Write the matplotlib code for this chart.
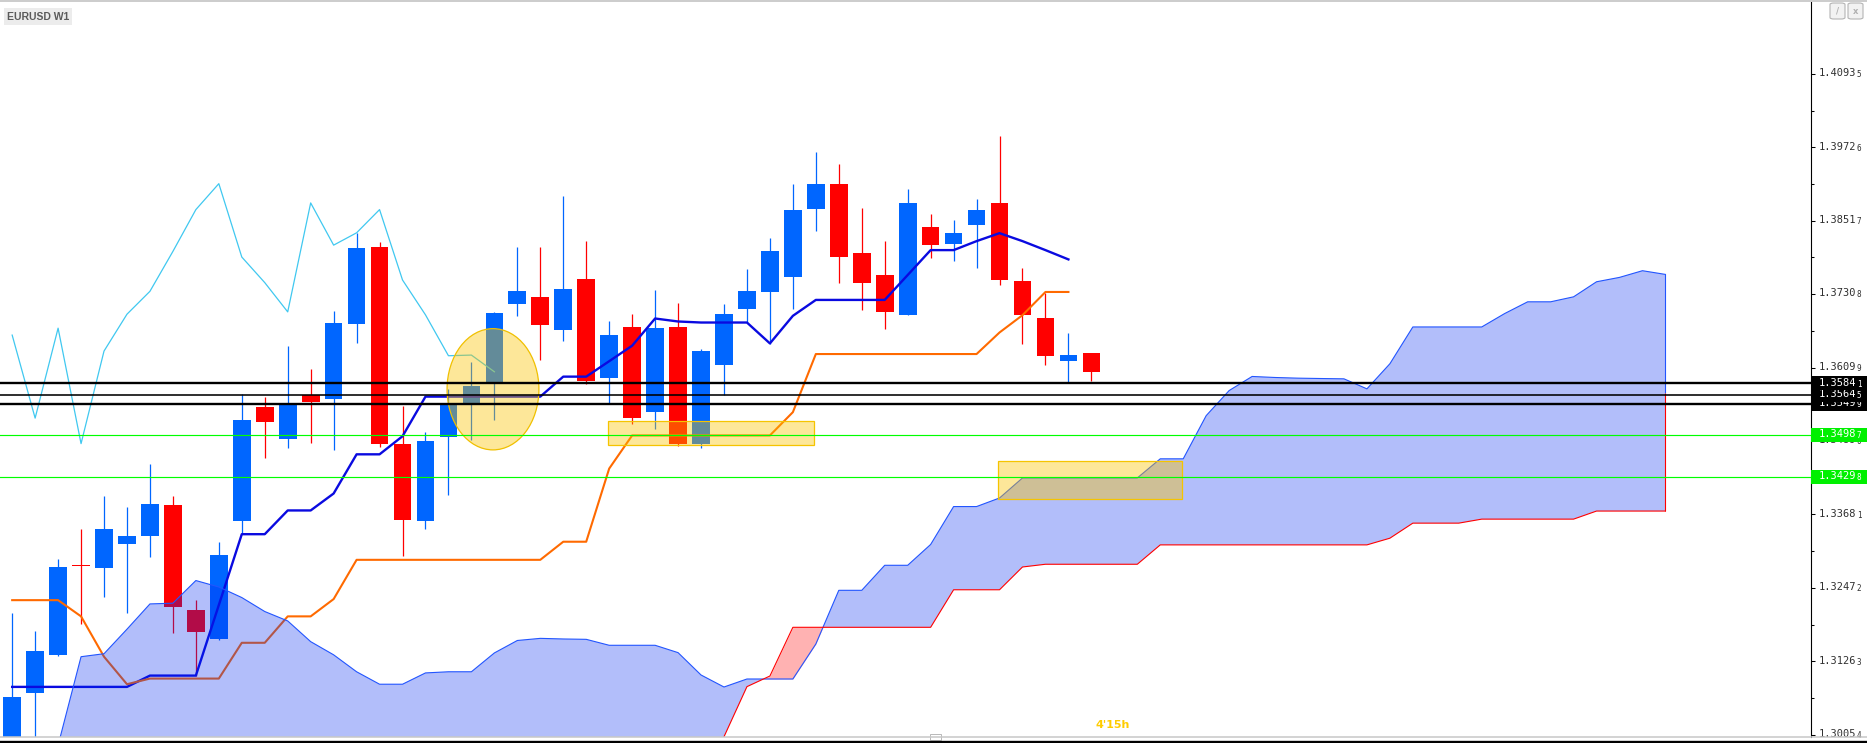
import numpy as np
import matplotlib.pyplot as plt
from matplotlib import transforms
from matplotlib.patches import Rectangle, Ellipse, FancyBboxPatch
from matplotlib.lines import Line2D

# --- EURUSD W1 : bougies (index 0..47) ---
opens = [1.29900, 1.30748, 1.31369, 1.32850, 1.32796, 1.33194, 1.33324, 1.33833, 1.32101, 1.31629,
         1.33572, 1.35453, 1.34919, 1.35639, 1.35589, 1.36812, 1.38085, 1.34845, 1.33572, 1.34949,
         1.35513, 1.35844, 1.37141, 1.37265, 1.36710, 1.37557, 1.35933, 1.36764, 1.35364, 1.36764,
         1.34835, 1.36146, 1.37065, 1.37343, 1.37590, 1.38705, 1.39126, 1.37989, 1.37617, 1.36966,
         1.38415, 1.38131, 1.38443, 1.38809, 1.37519, 1.36911, 1.36212, 1.36346]
highs = [1.32051, 1.31760, 1.32951, 1.33436, 1.33988, 1.33802, 1.34503, 1.33976, 1.32269, 1.33231,
         1.35664, 1.35620, 1.36458, 1.36067, 1.37029, 1.38321, 1.38165, 1.35465, 1.35043, 1.35747,
         1.36197, 1.37011, 1.38091, 1.38091, 1.38921, 1.38184, 1.36868, 1.36977, 1.37371, 1.37158,
         1.36403, 1.37141, 1.37715, 1.38224, 1.39126, 1.39651, 1.39454, 1.38732, 1.38186, 1.39039,
         1.38634, 1.38536, 1.38880, 1.39919, 1.37732, 1.37333, 1.36665, 1.36346]
lows = [1.29850, 1.29900, 1.31356, 1.31878, 1.32318, 1.32051, 1.32983, 1.31729, 1.31027, 1.31617,
        1.33355, 1.34615, 1.34770, 1.34863, 1.34733, 1.36508, 1.34795, 1.32995, 1.33448, 1.33999,
        1.34911, 1.35237, 1.36955, 1.36224, 1.36530, 1.35830, 1.35517, 1.35173, 1.35080, 1.34801,
        1.34774, 1.35648, 1.36840, 1.36485, 1.37059, 1.38344, 1.37491, 1.37048, 1.36737, 1.36966,
        1.37901, 1.37847, 1.37732, 1.37453, 1.36485, 1.36146, 1.35853, 1.35880]
closes = [1.30673, 1.31431, 1.32809, 1.32830, 1.33436, 1.33318, 1.33851, 1.32157, 1.31741, 1.33014,
          1.35229, 1.35205, 1.35478, 1.35527, 1.36831, 1.38060, 1.34845, 1.33584, 1.34894, 1.35475,
          1.35801, 1.36994, 1.37358, 1.36800, 1.37390, 1.35869, 1.36633, 1.35266, 1.36747, 1.34846,
          1.36370, 1.36977, 1.37354, 1.38011, 1.38699, 1.39126, 1.37918, 1.37497, 1.37015, 1.38809,
          1.38114, 1.38317, 1.38699, 1.37540, 1.36966, 1.36293, 1.36304, 1.36029]

# --- Ichimoku (tenkan / kijun : index 0..46) ---
tenkan = [1.30841, 1.30841, 1.30841, 1.30841, 1.30841, 1.30841, 1.31027, 1.31027, 1.31027, 1.32188,
          1.33355, 1.33355, 1.33746, 1.33746, 1.34025, 1.34670, 1.34670, 1.34968, 1.35620, 1.35620,
          1.35620, 1.35620, 1.35620, 1.35620, 1.35949, 1.35949, 1.36203, 1.36458, 1.36906, 1.36857,
          1.36840, 1.36840, 1.36840, 1.36496, 1.36950, 1.37212, 1.37212, 1.37212, 1.37212, 1.37622,
          1.38032, 1.38032, 1.38180, 1.38311, 1.38180, 1.38032, 1.37879]
kijun = [1.32269, 1.32269, 1.32269, 1.32002, 1.31338, 1.30885, 1.30978, 1.30978, 1.30978, 1.30978,
         1.31567, 1.31567, 1.32002, 1.32002, 1.32287, 1.32933, 1.32933, 1.32933, 1.32933, 1.32933,
         1.32933, 1.32933, 1.32933, 1.32933, 1.33231, 1.33231, 1.34435, 1.34981, 1.34981, 1.34981,
         1.34981, 1.34981, 1.34981, 1.34981, 1.35364, 1.36321, 1.36321, 1.36321, 1.36321, 1.36321,
         1.36321, 1.36321, 1.36321, 1.36676, 1.36961, 1.37343, 1.37343]

# --- nuage (senkou A / B : index 2..72) ---
kumo_start = 2
senkou_a = [1.29880, 1.31338, 1.31387, 1.31791, 1.32207, 1.32219, 1.32592, 1.32486, 1.32312, 1.32082,
            1.31927, 1.31586, 1.31369, 1.31090, 1.30885, 1.30885, 1.31071, 1.31090, 1.31090, 1.31400,
            1.31605, 1.31640, 1.31630, 1.31624, 1.31526, 1.31526, 1.31526, 1.31405, 1.31037, 1.30839,
            1.30971, 1.30971, 1.30971, 1.31547, 1.32431, 1.32431, 1.32843, 1.32843, 1.33186, 1.33810,
            1.33810, 1.33951, 1.34281, 1.34281, 1.34281, 1.34281, 1.34281, 1.34281, 1.34596, 1.34596,
            1.35307, 1.35720, 1.35952, 1.35935, 1.35924, 1.35918, 1.35913, 1.35748, 1.36161, 1.36767,
            1.36767, 1.36767, 1.36767, 1.36988, 1.37181, 1.37181, 1.37263, 1.37511, 1.37583, 1.37693,
            1.37632]
senkou_b = [1.29500, 1.29500, 1.29500, 1.29500, 1.29500, 1.29500, 1.29500, 1.29500, 1.29500, 1.29500,
            1.29500, 1.29500, 1.29500, 1.29500, 1.29500, 1.29500, 1.29500, 1.29500, 1.29500, 1.29500,
            1.29500, 1.29500, 1.29500, 1.29500, 1.29500, 1.29500, 1.29500, 1.29500, 1.29500, 1.30020,
            1.30845, 1.31020, 1.31822, 1.31822, 1.31822, 1.31822, 1.31822, 1.31822, 1.31822, 1.32440,
            1.32440, 1.32440, 1.32815, 1.32860, 1.32860, 1.32860, 1.32860, 1.32860, 1.33179, 1.33179,
            1.33179, 1.33179, 1.33179, 1.33179, 1.33179, 1.33179, 1.33179, 1.33179, 1.33289, 1.33537,
            1.33537, 1.33537, 1.33603, 1.33603, 1.33603, 1.33603, 1.33603, 1.33736, 1.33736, 1.33736,
            1.33736]

# --- niveaux horizontaux et graduations ---
black_levels = [1.35841, 1.35645, 1.35499]
green_levels = [1.34987, 1.34298]
tick_values = [1.30054, 1.31263, 1.32472, 1.33681, 1.34890, 1.36099, 1.37308, 1.38517, 1.39726, 1.40935]

# zones dessinées à la main (coordonnées index / prix)
ellipse_zone = dict(xy=(20.94, 1.35741), width=4.0, height=0.01996)
rect_zones = [(25.97, 34.93, 1.34822, 1.35221), (42.94, 50.96, 1.33938, 1.34563)]

BLUE = '#0066ff'
RED = '#ff0000'
YELLOW = '#fac300'

# --- figure ---
W, H = 1867, 743
fig = plt.figure(figsize=(W / 100, H / 100), dpi=100)
fig.patch.set_facecolor('white')
ax = fig.add_axes([0, 6 / H, 1811 / W, 735 / H])
ax.set_xlim(-0.53, 78.34)
ax.set_ylim(1.30016, 1.42117)
px = 735 / (1.42117 - 1.30016)   # pixels par unité de prix

for s in ['left', 'top', 'bottom']:
    ax.spines[s].set_visible(False)
ax.spines['right'].set_color('black')
ax.spines['right'].set_linewidth(0.8)
ax.set_xticks([])
ax.yaxis.tick_right()
ax.set_yticks(tick_values)
ax.set_yticklabels([])
tv = np.array(tick_values)
ax.set_yticks(tv[:-1] + np.diff(tv) / 2, minor=True)
ax.tick_params(axis='y', which='major', direction='out', length=3, width=0.75, color='black')
ax.tick_params(axis='y', which='minor', direction='out', length=1.8, width=0.75, color='black')

# --- bougies ---
o = np.array(opens); h = np.array(highs); l = np.array(lows); c = np.array(closes)
x = np.arange(len(o))
cols = [BLUE if cc >= oo else RED for oo, cc in zip(o, c)]
ax.vlines(x, l, h, colors=cols, lw=0.9, zorder=2)
body_lo = np.minimum(o, c)
body_h = np.maximum(np.abs(c - o), 1.2 / px)
ax.bar(x, body_h, bottom=body_lo, width=0.77, color=cols, linewidth=0, zorder=2.1)

# --- lignes Ichimoku ---
ax.plot(np.arange(len(tenkan)), tenkan, color='#0a0ae0', lw=1.7, zorder=3)
ax.plot(np.arange(len(kijun)), kijun, color='#ff6a00', lw=1.5, zorder=3)
ax.plot(np.arange(len(c) - 26), c[26:], color='#40c8f0', lw=0.9, zorder=3)   # chikou

xa = np.arange(kumo_start, kumo_start + len(senkou_a))
sa = np.array(senkou_a); sb = np.array(senkou_b)
ax.fill_between(xa, sa, sb, where=sa >= sb, interpolate=True, color='#0028f0', alpha=0.3, lw=0, zorder=4)
ax.fill_between(xa, sa, sb, where=sa < sb, interpolate=True, color='#ff0000', alpha=0.3, lw=0, zorder=4)
ax.plot(xa, sa, color='#2255ff', lw=0.8, zorder=5)
ax.plot(xa, sb, color='#ff0000', lw=0.8, zorder=5)
mid = (sa[-1] + sb[-1]) / 2
ax.vlines(xa[-1], mid, sa[-1], color='#2255ff', lw=0.8, zorder=5)
ax.vlines(xa[-1], sb[-1], mid, color='#ff0000', lw=0.8, zorder=5)

# --- zones jaunes ---
ax.add_patch(Ellipse(**ellipse_zone, facecolor=YELLOW, alpha=0.4, lw=0, zorder=6))
ax.add_patch(Ellipse(**ellipse_zone, facecolor='none', edgecolor='#f0c000', lw=0.9, zorder=6.1))
for x0, x1, y0, y1 in rect_zones:
    ax.add_patch(Rectangle((x0, y0), x1 - x0, y1 - y0, facecolor=YELLOW, alpha=0.4, lw=0, zorder=6))
    ax.add_patch(Rectangle((x0, y0), x1 - x0, y1 - y0, facecolor='none', edgecolor='#f5c400', lw=0.9, zorder=6.1))

# --- niveaux horizontaux ---
for y, lw in zip(black_levels, [1.7, 1.15, 1.7]):
    ax.axhline(y, color='black', lw=lw, zorder=7)
for y in green_levels:
    ax.axhline(y, color='#00ff00', lw=0.85, zorder=7)

# --- étiquettes de prix (axe de droite) ---
ytr = transforms.blended_transform_factory(fig.transFigure, ax.transData)
x_axis = 1811 / W

def price_text(y, color, z):
    s = f"{y:.5f}"
    t1 = transforms.offset_copy(ytr, fig=fig, x=5.8, y=0.5, units='points')
    t2 = transforms.offset_copy(ytr, fig=fig, x=32.9, y=-0.6, units='points')
    fig.text(x_axis, y, s[:-1], transform=t1, ha='left', va='center', fontsize=7.5,
             family='DejaVu Sans Mono', color=color, zorder=z)
    fig.text(x_axis, y, s[-1], transform=t2, ha='left', va='center', fontsize=5.5,
             family='DejaVu Sans Mono', color=color, zorder=z)

for v in tick_values:
    price_text(v, '#303030', 0.5)

hh = 7 / px
box_w = (W - 1811) / W
for i, y in enumerate(reversed(black_levels)):
    z = 1 + i * 0.1
    fig.add_artist(Rectangle((x_axis, y - hh), box_w, 2 * hh, transform=ytr,
                             facecolor='black', edgecolor='none', zorder=z))
    price_text(y, 'white', z + 0.05)
for y in green_levels:
    fig.add_artist(Rectangle((x_axis, y - hh), box_w, 2 * hh, transform=ytr,
                             facecolor='#00f000', edgecolor='none', zorder=1.5))
    price_text(y, 'white', 1.55)

# --- habillage de la fenêtre ---
fig.add_artist(Line2D([0, 1], [1 - 0.8 / H] * 2, color='#c4c4c4', lw=1.2, transform=fig.transFigure))
fig.add_artist(Line2D([0, 1], [6 / H] * 2, color='#c8c8c8', lw=1.1, transform=fig.transFigure))
fig.add_artist(Line2D([0, 1], [1.2 / H] * 2, color='black', lw=1.7, transform=fig.transFigure))
fig.add_artist(Rectangle((930 / W, 3 / H), 11 / W, 6 / H, transform=fig.transFigure,
                         facecolor='white', edgecolor='#b8b8b8', lw=0.7))

fig.text(7 / W, 1 - 16.5 / H, "EURUSD W1", fontsize=7.5, weight='bold', color='#5a5a5a',
         family='Liberation Sans', ha='left', va='center',
         bbox=dict(boxstyle='square,pad=0.3', fc='#ececec', ec='none'))

for bx, glyph in [(1830, '/'), (1848, 'x')]:
    fig.add_artist(FancyBboxPatch((bx / W, 1 - 19 / H), 15 / W, 16 / H, transform=fig.transFigure,
                                  boxstyle='round,pad=0,rounding_size=0.002', facecolor='#f2f2f2',
                                  edgecolor='#b4b4b4', lw=0.8))
    fig.text((bx + 7.5) / W, 1 - 11 / H, glyph, fontsize=6, color='#b0b0b0', ha='center', va='center',
             weight='bold')

fig.text(1113 / W, 1 - 725.5 / H, "4'15h", fontsize=8, weight='bold', color='#ffcc00',
         ha='center', va='center')

fig.savefig('out.png', dpi=100, facecolor='white')
